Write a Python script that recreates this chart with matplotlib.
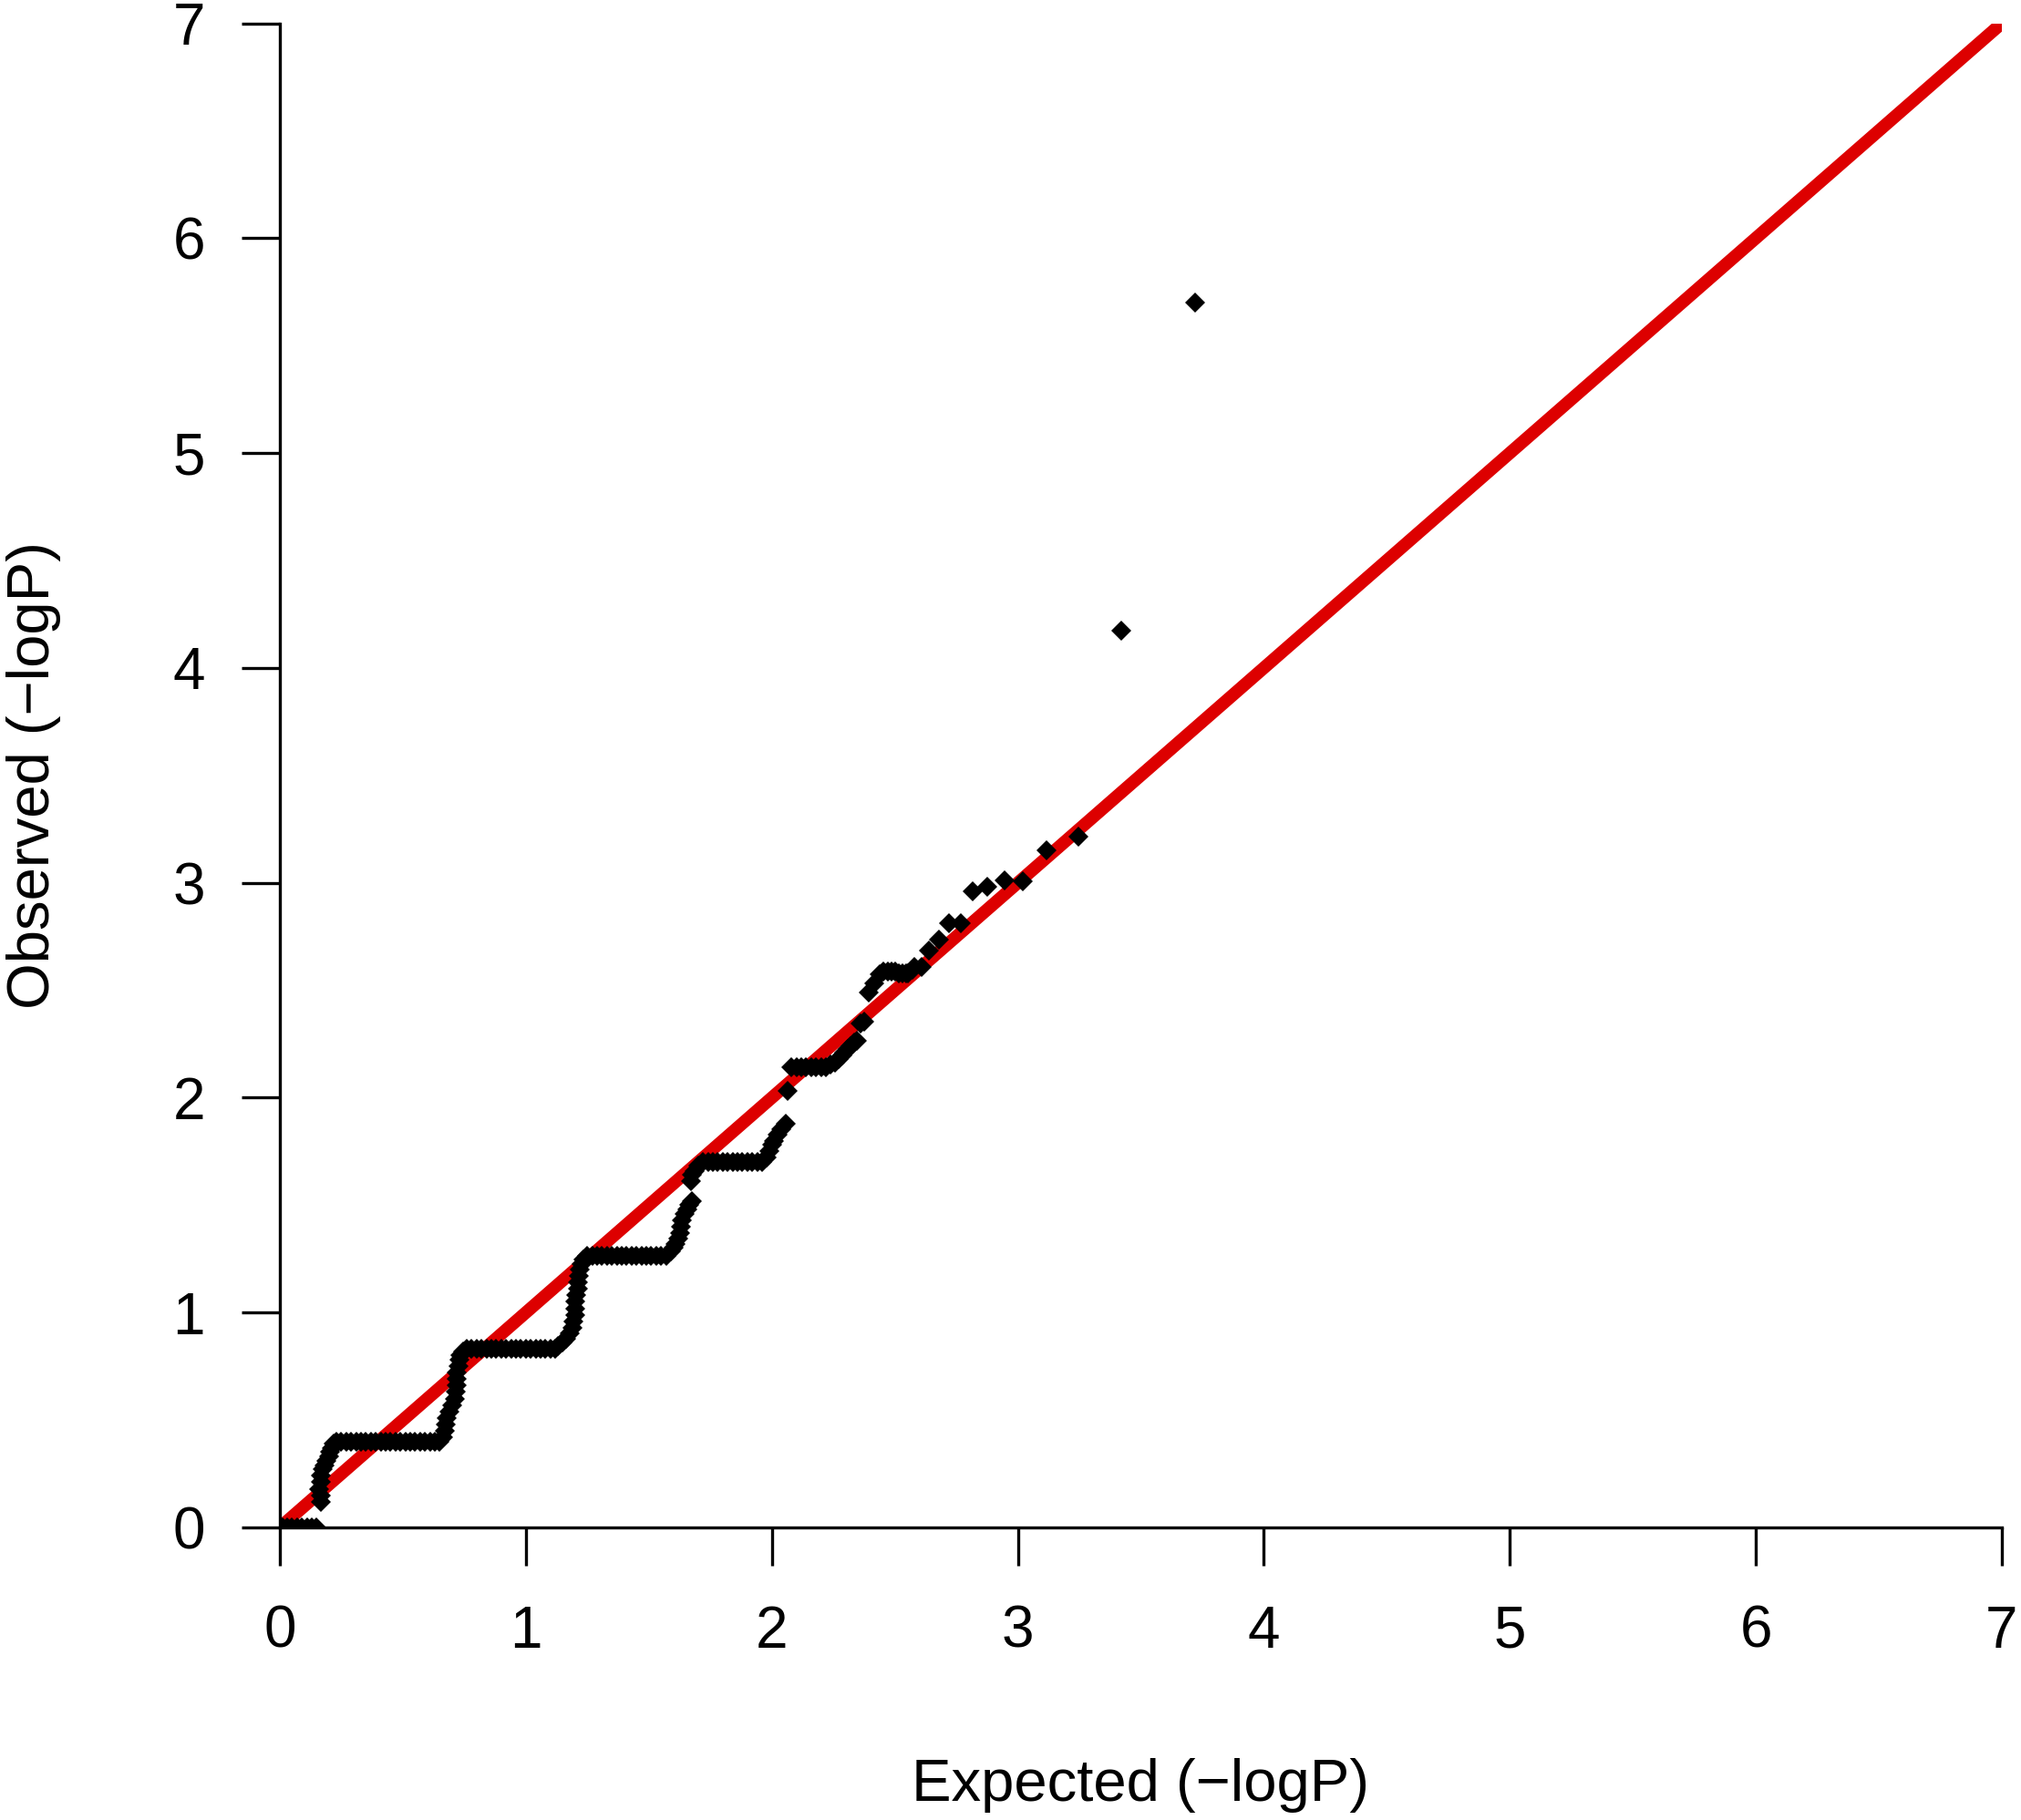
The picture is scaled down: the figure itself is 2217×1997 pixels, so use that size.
import numpy as np
import matplotlib
matplotlib.use("Agg")
import matplotlib.pyplot as plt

plt.rcParams['font.family'] = ['Liberation Sans', 'DejaVu Sans']

# flat runs of the staircase: tied observed values and their expected positions
tie_levels = [0.0, 0.40, 0.83, 1.265, 1.70, 2.14]
tie_expected = [
    [0.01, 0.03, 0.05, 0.07, 0.09, 0.11, 0.13, 0.15],
    [0.23, 0.25, 0.27, 0.29, 0.31, 0.33, 0.35, 0.37, 0.39, 0.41, 0.43,
     0.45, 0.47, 0.49, 0.51, 0.53, 0.55, 0.57, 0.59, 0.61, 0.63, 0.65],
    [0.76, 0.78, 0.80, 0.82, 0.84, 0.86, 0.88, 0.90, 0.92, 0.94, 0.96,
     0.98, 1.00, 1.02, 1.04, 1.06, 1.08, 1.10, 1.12],
    [1.25, 1.27, 1.29, 1.31, 1.33, 1.35, 1.37, 1.39, 1.41, 1.43, 1.45,
     1.47, 1.49, 1.51, 1.53, 1.55, 1.57],
    [1.72, 1.74, 1.76, 1.78, 1.80, 1.82, 1.84, 1.86, 1.88, 1.90, 1.92,
     1.94, 1.96],
    [2.08, 2.10, 2.12, 2.14, 2.16, 2.18, 2.20, 2.22],
]

# points on the rises between runs, plus the upper tail
rise_expected = [
    0.165, 0.165, 0.16, 0.165, 0.165, 0.175, 0.18, 0.19, 0.20, 0.205, 0.21, 0.22,
    0.665, 0.67, 0.675, 0.68, 0.69, 0.70, 0.71, 0.715, 0.72, 0.72, 0.72, 0.725, 0.73, 0.735, 0.745,
    1.13, 1.15, 1.165, 1.18, 1.19, 1.195, 1.20, 1.20, 1.20, 1.205, 1.21, 1.21, 1.215, 1.22, 1.225, 1.235,
    1.59, 1.60, 1.61, 1.62, 1.625, 1.63, 1.635, 1.645, 1.655, 1.665, 1.675, 1.67, 1.675, 1.685, 1.70,
    1.98, 1.99, 2.0, 2.01, 2.025, 2.04, 2.055, 2.065,
    2.24, 2.255, 2.27, 2.285, 2.295, 2.31, 2.32, 2.335, 2.345, 2.36, 2.375, 2.395, 2.415,
    2.44, 2.455, 2.47, 2.485, 2.50, 2.515, 2.53, 2.545, 2.555, 2.57, 2.58, 2.61, 2.64,
    2.68, 2.72, 2.77, 2.815, 2.875, 2.945, 3.02, 3.115, 3.245, 3.42, 3.72,
]
rise_observed = [
    0.12, 0.15, 0.18, 0.21, 0.24, 0.27, 0.29, 0.31, 0.33, 0.35, 0.37, 0.39,
    0.42, 0.45, 0.48, 0.51, 0.54, 0.57, 0.60, 0.63, 0.66, 0.69, 0.72, 0.75, 0.78, 0.80, 0.82,
    0.845, 0.86, 0.88, 0.905, 0.93, 0.96, 0.99, 1.02, 1.05, 1.08, 1.11, 1.14, 1.17, 1.20, 1.225, 1.245,
    1.285, 1.30, 1.32, 1.345, 1.37, 1.40, 1.43, 1.46, 1.48, 1.50, 1.52, 1.61, 1.64, 1.66, 1.685,
    1.72, 1.75, 1.78, 1.80, 1.83, 1.855, 1.88, 2.03,
    2.155, 2.165, 2.18, 2.195, 2.21, 2.225, 2.24, 2.255, 2.265, 2.345, 2.355, 2.49, 2.53,
    2.575, 2.585, 2.585, 2.585, 2.585, 2.58, 2.58, 2.58, 2.58, 2.595, 2.61, 2.61, 2.685,
    2.735, 2.81, 2.81, 2.96, 2.98, 3.01, 3.005, 3.15, 3.215, 4.175, 5.70,
]

ref_intercept, ref_slope = 0.0, 1.0
ticks = [0, 1, 2, 3, 4, 5, 6, 7]


def main():
    expected = list(rise_expected)
    observed = list(rise_observed)
    for lvl, xs in zip(tie_levels, tie_expected):
        expected += xs
        observed += [lvl] * len(xs)

    fig = plt.figure(figsize=(22.17, 19.97), dpi=100)
    ax = fig.add_axes([0.13847, 0.16074, 0.85205, 0.82649])

    ax.axline((0, ref_intercept), slope=ref_slope, color='#dd0000', lw=10, zorder=1)
    ax.plot(expected, observed, ls='none', marker='D', ms=11.5, mew=0,
            color='black', zorder=2)

    ax.set_xlim(ticks[0], ticks[-1])
    ax.set_ylim(ticks[0], ticks[-1])
    ax.set_xticks(ticks)
    ax.set_yticks(ticks)
    ax.spines['top'].set_visible(False)
    ax.spines['right'].set_visible(False)
    for s in ['left', 'bottom']:
        ax.spines[s].set_linewidth(2.4)
    ax.tick_params(axis='both', length=30, width=2.4, labelsize=46)
    ax.tick_params(axis='x', pad=31)
    ax.tick_params(axis='y', pad=29)

    ax.set_xlabel('Expected (\u2212logP)', fontsize=47)
    ax.set_ylabel('Observed (\u2212logP)', fontsize=47)
    ax.xaxis.set_label_coords(0.5, -0.1533)
    ax.yaxis.set_label_coords(-0.127, 0.5)

    fig.savefig('out.png', dpi=100)


if __name__ == '__main__':
    main()
